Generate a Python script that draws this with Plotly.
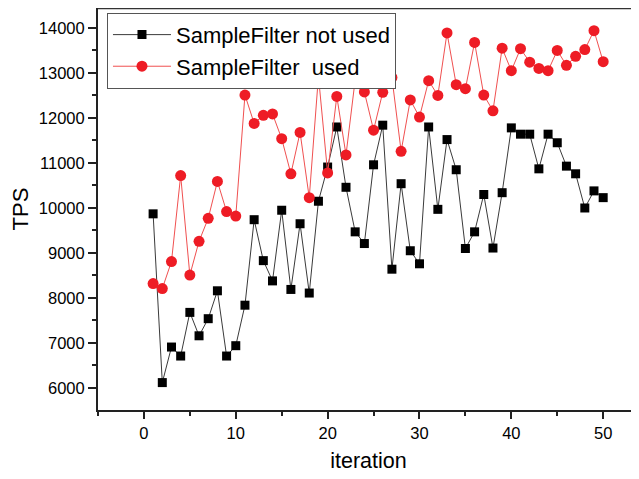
import plotly.graph_objects as go

iterations = list(range(1, 51))
not_used = [9870, 6120, 6910, 6710, 7680, 7160, 7540, 8160, 6710, 6940,
            7840, 9740, 8830, 8380, 9950, 8190, 9650, 8110, 10150, 10910,
            11800, 10460, 9470, 9210, 10960, 11840, 8640, 10540, 9050, 8760,
            11800, 9970, 11520, 10850, 9100, 9470, 10300, 9110, 10340, 11780,
            11640, 11640, 10870, 11640, 11450, 10930, 10760, 10000, 10380, 10230]
used = [8320, 8210, 8810, 10720, 8510, 9260, 9770, 10590, 9920, 9820,
        12510, 11880, 12060, 12090, 11540, 10760, 11680, 10230, 12930, 10780,
        12480, 11180, 12850, 12580, 11730, 12570, 12900, 11260, 12400, 12020,
        12830, 12500, 13890, 12740, 12650, 13680, 12510, 12160, 13550, 13050,
        13540, 13240, 13100, 13050, 13500, 13170, 13370, 13520, 13940, 13250]

x_ticks = [0, 10, 20, 30, 40, 50]
y_ticks = [6000, 7000, 8000, 9000, 10000, 11000, 12000, 13000, 14000]

FONT = "Arial, Liberation Sans, sans-serif"

fig = go.Figure()
fig.add_trace(go.Scatter(
    x=iterations, y=not_used, mode="lines+markers", name="SampleFilter not used",
    line=dict(color="#3a3a3a", width=1),
    marker=dict(symbol="square", size=9, color="#000000"),
))
fig.add_trace(go.Scatter(
    x=iterations, y=used, mode="lines+markers", name="SampleFilter  used",
    line=dict(color="#f05050", width=1),
    marker=dict(symbol="circle", size=11, color="#ee1c25"),
))

# the page adds an 8px body margin, so margins are offset by 8px
fig.update_layout(
    width=639, height=479,
    margin=dict(l=90, r=8, t=0, b=77, autoexpand=False),
    plot_bgcolor="white", paper_bgcolor="white",
    font=dict(family=FONT, color="#000000"),
    showlegend=True,
    legend=dict(
        x=0.0166, y=0.988, xanchor="left", yanchor="top",
        bordercolor="#555555", borderwidth=1, bgcolor="white",
        font=dict(size=22, family=FONT),
        tracegroupgap=0, itemwidth=58,
    ),
    xaxis=dict(
        range=[-5, 53.9], tickvals=x_ticks, ticks="outside", ticklen=7,
        tickwidth=1.5, tickcolor="#222222", automargin=False,
        showline=True, linecolor="#222222", linewidth=2,
        showgrid=False, zeroline=False,
        tickfont=dict(size=16.5),
        minor=dict(dtick=5, tick0=0, ticks="outside", ticklen=4, tickcolor="#222222", showgrid=False),
        title=dict(text="iteration", font=dict(size=21.5), standoff=12),
    ),
    yaxis=dict(
        range=[5511, 14444], tickvals=y_ticks, tickformat="d", ticks="outside", ticklen=8,
        tickwidth=1.5, tickcolor="#222222", automargin=False,
        showline=True, linecolor="#222222", linewidth=2,
        showgrid=False, zeroline=False,
        tickfont=dict(size=16.5),
        minor=dict(dtick=500, tick0=0, ticks="outside", ticklen=4, tickcolor="#222222", showgrid=False),
        title=dict(text="TPS", font=dict(size=22), standoff=12),
    ),
    shapes=[dict(type="line", xref="paper", yref="paper", x0=0, x1=1, y0=1, y1=1,
                 line=dict(color="#333333", width=2.5))],
)

fig.write_html("out.html")
